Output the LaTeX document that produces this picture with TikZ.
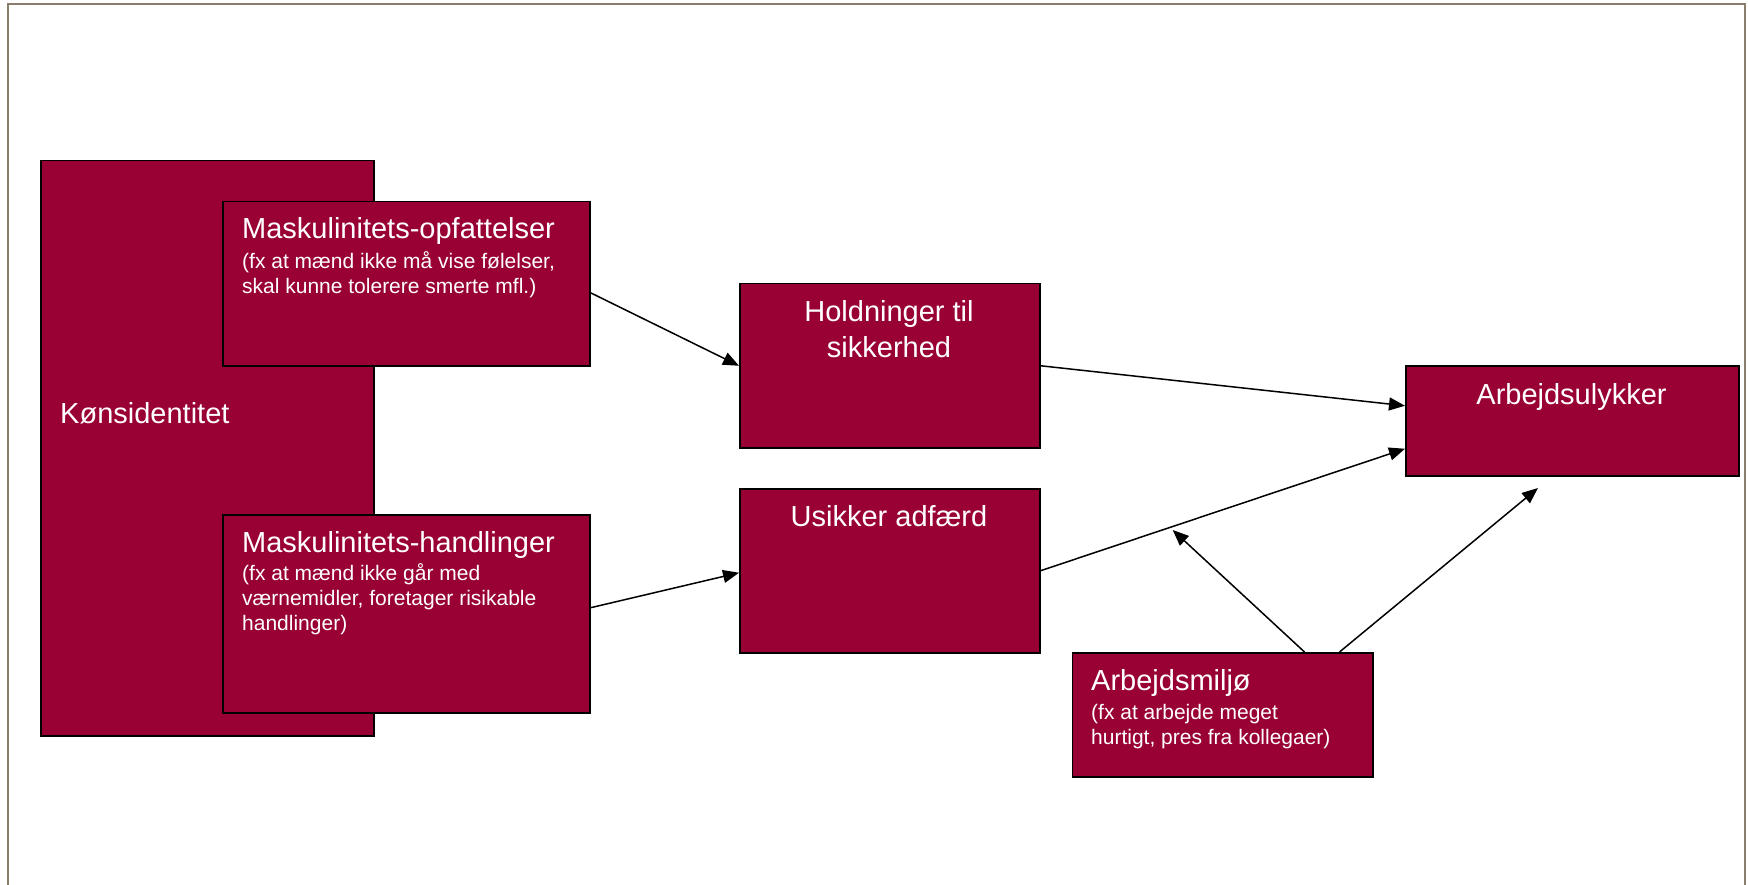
\documentclass[tikz,border=0pt]{standalone}
\usepackage{fontspec}
\setmainfont{Liberation Sans}
\usetikzlibrary{arrows.meta}
\definecolor{boxred}{RGB}{153,0,51}
\definecolor{framec}{RGB}{139,125,107}
\begin{document}
\begin{tikzpicture}[x=1pt,y=-1pt,
  box/.style={draw=black,line width=1.5pt,fill=boxred,inner sep=0pt,anchor=north west},
  ttl/.style={text=white,font=\fontsize{29}{34}\selectfont,inner sep=0pt},
  sub/.style={text=white,font=\fontsize{21}{25}\selectfont,inner sep=0pt},
  conn/.style={line width=1.5pt,-{Triangle[length=16pt,width=13pt]}}]
\useasboundingbox (0,0) rectangle (1748,885);
\draw[framec,line width=2pt] (7.5,890) -- (7.5,4.5) -- (1745,4.5) -- (1745,890);

% boxes
\node[box,minimum width=333pt,minimum height=575pt] (kon) at (40,160) {};
\node[box,minimum width=367pt,minimum height=164pt] (opf) at (222,201) {};
\node[box,minimum width=367pt,minimum height=198pt] (hand) at (222,514) {};
\node[box,minimum width=300pt,minimum height=164pt] (hold) at (739,283) {};
\node[box,minimum width=300pt,minimum height=164pt] (usik) at (739,488) {};
\node[box,minimum width=333pt,minimum height=110pt] (ulyk) at (1405,365) {};
\node[box,minimum width=300.5pt,minimum height=124pt] (milj) at (1071.5,652) {};

% texts
\node[ttl,anchor=base west] (konT) at (60,423) {Kønsidentitet};
\node[ttl,anchor=base west] (opfT) at (242,239) {Maskulinitets-opfattelser};
\node[sub,anchor=base west] (opfS1) at (242,269) {(fx at mænd ikke må vise følelser,};
\node[sub,anchor=base west] (opfS2) at (242,294) {skal kunne tolerere smerte mfl.)};
\node[ttl,anchor=base west] (handT) at (242,552) {Maskulinitets-handlinger};
\node[sub,anchor=base west] (handS1) at (242,580) {(fx at mænd ikke går med};
\node[sub,anchor=base west] (handS2) at (242,605) {værnemidler, foretager risikable};
\node[sub,anchor=base west] (handS3) at (242,630) {handlinger)};
\node[ttl,anchor=base] (holdT1) at (889,322) {Holdninger til};
\node[ttl,anchor=base] (holdT2) at (889,357) {sikkerhed};
\node[ttl,anchor=base] (usikT) at (889,526) {Usikker adfærd};
\node[ttl,anchor=base] (ulykT) at (1571.5,404) {Arbejdsulykker};
\node[ttl,anchor=base west] (miljT) at (1091,690) {Arbejdsmiljø};
\node[sub,anchor=base west] (miljS1) at (1091,719) {(fx at arbejde meget};
\node[sub,anchor=base west] (miljS2) at (1091,744) {hurtigt, pres fra kollegaer)};

% free ends
\coordinate (modUsik) at (1172.7,530);
\coordinate (modUlyk) at (1538,488);

% connectors
\draw[conn] ([yshift=-9pt]opf.east) -- (hold.west);
\draw[conn] ([yshift=6pt]hand.east) -- ([yshift=-2pt]usik.west);
\draw[conn] (hold.east) -- ([yshift=15pt]ulyk.west);
\draw[conn] (usik.east) -- ([yshift=-28pt]ulyk.west);
\draw[conn] ([xshift=82pt]milj.north) -- (modUsik);
\draw[conn] ([xshift=117pt]milj.north) -- (modUlyk);
\end{tikzpicture}
\end{document}
